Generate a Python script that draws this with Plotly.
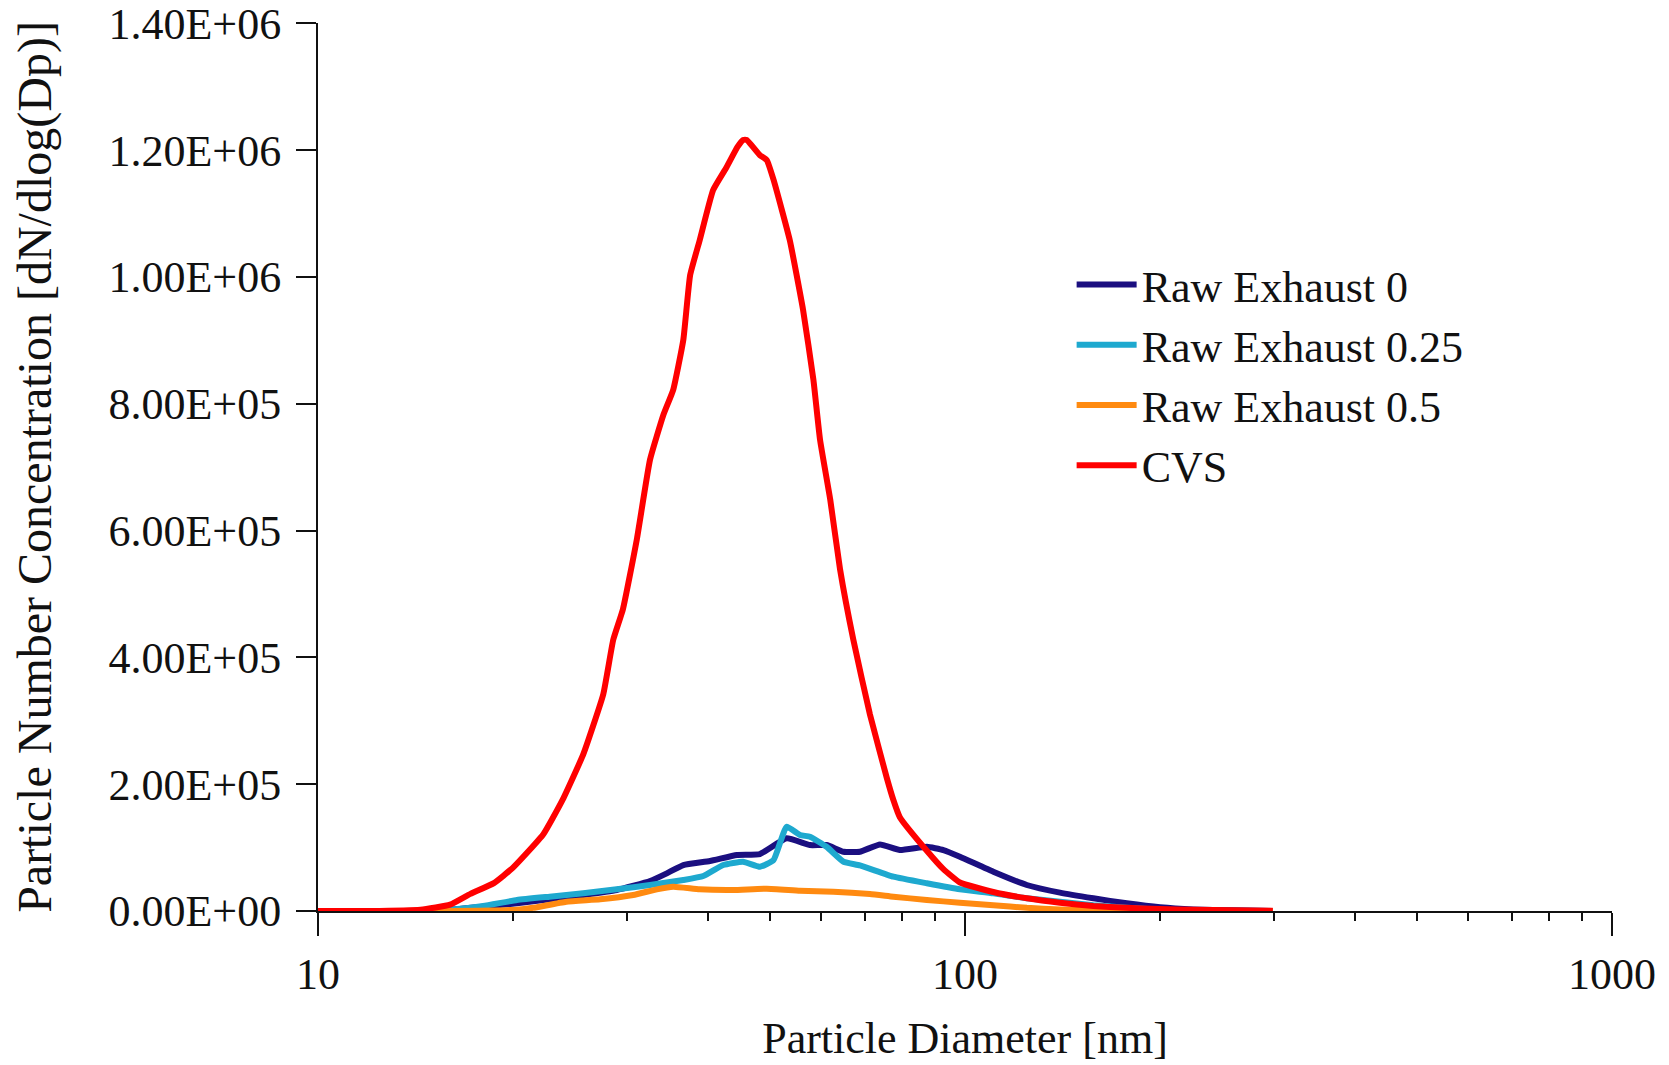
import plotly.graph_objects as go

# ---------------- data ----------------
cvs_d = [10, 12, 14.4, 16.0, 17.2, 18.7, 20.0, 22.3, 23.9, 25.7, 27.6, 28.6, 29.6, 31.1,
         32.6, 34.2, 35.4, 36.7, 37.6, 38.9, 40.8, 42.8, 44.5, 45.4, 46.0, 48.2, 49.4,
         50.6, 53.6, 56.2, 58.3, 59.7, 61.9, 64.1, 67.2, 71.3, 75.7, 77.5, 79.3, 87.3,
         92.6, 98.2, 110.6, 124.6, 140.2, 157.9, 177.8, 200.2, 225.4, 260, 299]
cvs_v = [0, 0, 2000, 10000, 27000, 44000, 68000, 121000, 176000, 247000, 342000, 428000,
         476000, 586000, 712000, 783000, 822000, 901000, 1003000, 1058000, 1137000,
         1173000, 1205000, 1216000, 1216000, 1192000, 1184000, 1153000, 1058000, 948000,
         838000, 743000, 649000, 539000, 428000, 310000, 210000, 175000, 148000, 95000,
         66000, 45000, 30000, 20000, 13000, 8000, 5000, 3000, 2000, 1000, 500]

raw0_d = [10, 14.0, 16.0, 18.0, 20.3, 22.8, 25.7, 28.95, 32.6, 34.6, 36.7, 40.35, 44.4,
          48.2, 53.0, 57.6, 61.1, 64.9, 68.8, 73.9, 79.3, 87.3, 92.6, 98.2, 110.6, 124.6,
          140.2, 157.9, 177.8, 200.2, 225.4, 260, 299]
raw0_v = [0, 0, 2000, 6800, 12100, 18400, 25200, 33100, 47300, 59400, 72500, 78800, 88300,
          89800, 114600, 104000, 104000, 93500, 93500, 105000, 96100, 101300, 96100, 85600,
          61900, 41000, 28900, 20000, 12100, 5800, 2500, 1000, 0]

raw25_d = [10, 14.0, 16.0, 18.0, 20.3, 22.8, 25.7, 28.95, 32.6, 36.7, 39.4, 42.3, 45.4,
           48.2, 50.6, 53.0, 55.6, 57.6, 61.1, 64.9, 68.8, 77.5, 87.3, 98.2, 110.6, 124.6,
           140.2, 157.9, 177.8, 200.2, 225.4, 260, 299]
raw25_v = [0, 0, 2000, 7900, 17300, 22600, 27900, 34200, 41000, 48900, 55200, 72500, 77700,
           69800, 80400, 132900, 119800, 117100, 101300, 77700, 72000, 54100, 43700, 34200,
           27900, 20000, 14700, 9000, 5000, 2000, 1000, 500, 0]

raw50_d = [10, 16.0, 20.3, 21.5, 24.2, 27.3, 30.7, 33.4, 35.4, 38.9, 43.8, 49.4, 55.6,
           62.6, 71.3, 77.5, 87.3, 98.2, 110.6, 124.6, 140.2, 157.9, 200.2, 299]
raw50_v = [0, 0, 2000, 5000, 14700, 18400, 25200, 34200, 38300, 34200, 33100, 35200, 32000,
           30400, 26800, 22600, 17300, 13100, 9000, 5000, 2500, 1000, 0, 0]

y_tickvals = [0, 200000, 400000, 600000, 800000, 1000000, 1200000, 1400000]
y_ticktext = ["0.00E+00", "2.00E+05", "4.00E+05", "6.00E+05", "8.00E+05",
              "1.00E+06", "1.20E+06", "1.40E+06"]
x_tickvals = [10, 100, 1000]
x_ticktext = ["10", "100", "1000"]
x_minorvals = [20, 30, 40, 50, 60, 70, 80, 90, 200, 300, 400, 500, 600, 700, 800, 900]

series = [
    ("Raw Exhaust 0", raw0_d, raw0_v, "#1b0f80"),
    ("Raw Exhaust 0.25", raw25_d, raw25_v, "#1ea9cf"),
    ("Raw Exhaust 0.5", raw50_d, raw50_v, "#ff8a10"),
    ("CVS", cvs_d, cvs_v, "#ff0000"),
]

FONT = "Liberation Serif, Times New Roman, serif"

fig = go.Figure()
for name, xd, yd, col in series:
    fig.add_trace(go.Scatter(x=xd, y=yd, mode="lines", name=name,
                             line=dict(color=col, width=6, shape="spline", smoothing=0.4)))

fig.update_layout(
    width=1669, height=1065,
    margin=dict(l=318, r=57, t=23, b=154),
    paper_bgcolor="white", plot_bgcolor="white",
    font=dict(family=FONT, size=44, color="#111111"),
    showlegend=True,
    legend=dict(x=0.5824, y=0.745, xanchor="left", yanchor="top",
                bgcolor="rgba(0,0,0,0)", font=dict(family=FONT, size=44),
                tracegroupgap=0, itemwidth=60),
    xaxis=dict(type="log", range=[1, 3], automargin=False,
               tickmode="array", tickvals=x_tickvals, ticktext=x_ticktext,
               ticks="outside", ticklen=23, tickwidth=2, tickcolor="#111111",
               showline=True, linecolor="#111111", linewidth=2,
               showgrid=False, zeroline=False, ticklabeloverflow="allow",
               minor=dict(tickmode="array", tickvals=x_minorvals, ticks="outside",
                          ticklen=8, tickwidth=2, tickcolor="#111111", showgrid=False),
               tickfont=dict(family=FONT, size=44),
               title=dict(text="Particle Diameter [nm]", font=dict(family=FONT, size=44),
                          standoff=24)),
    yaxis=dict(range=[0, 1400500], automargin=False,
               tickmode="array", tickvals=y_tickvals, ticktext=y_ticktext,
               ticks="outside", ticklen=20, tickwidth=2, tickcolor="#111111",
               showline=True, linecolor="#111111", linewidth=2,
               showgrid=False, zeroline=False, ticklabelstandoff=6,
               ticklabeloverflow="allow",
               tickfont=dict(family=FONT, size=44),
               title=dict(text="Particle Number Concentration [dN/dlog(Dp)]",
                          font=dict(family=FONT, size=48), standoff=42)),
)

fig.write_html("out.html", config={"displayModeBar": False},
               post_script="document.body.style.margin='0';document.body.style.overflow='hidden';")
